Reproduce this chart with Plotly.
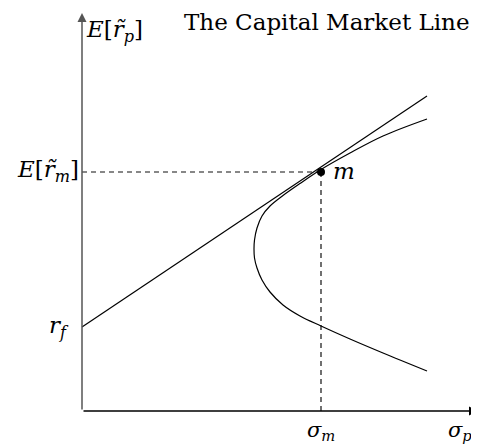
import plotly.graph_objects as go

# ---- data (arbitrary units) ----
frontier_sigma = [3.45, 3.01, 2.68, 2.39, 2.18, 2.01, 1.88, 1.80, 1.75, 1.725, 1.72,
                  1.725, 1.75, 1.80, 1.88, 2.01, 2.18, 2.39, 2.68, 3.01, 3.45]
frontier_mu = [2.92, 2.75, 2.58, 2.415, 2.275, 2.155, 2.05, 1.95, 1.83, 1.71, 1.62,
               1.53, 1.43, 1.31, 1.19, 1.06, 0.95, 0.85, 0.72, 0.58, 0.40]

cml_sigma = [0.0, 3.45]
cml_mu = [0.84, 3.15]

sigma_m = 2.39
mu_m = 2.39
r_f = 0.84

x_axis_max = 3.96
y_axis_max = 3.98

y_tick_labels = ["<i>E</i>[<i>r\u0303</i><sub><i>m</i></sub>]", "<i>r</i><sub><i>f</i></sub>"]
x_tick_labels = ["<i>σ</i><sub><i>m</i></sub>", "<i>σ</i><sub><i>p</i></sub>"]
y_axis_title = "<i>E</i>[<i>r\u0303</i><sub><i>p</i></sub>]"
point_label = "<i>m</i>"
title_text = "The Capital Market Line"

# page body has an 8px margin; the figure is sized to fill the rest of the 479x448 window
W, H = 471, 440
FONT = "DejaVu Serif"

fig = go.Figure()

dash_style = dict(color="#111", width=1.2, dash="5px,4px")
fig.add_trace(go.Scatter(x=[0, sigma_m], y=[mu_m, mu_m], mode="lines",
                         line=dash_style, hoverinfo="skip", showlegend=False))
fig.add_trace(go.Scatter(x=[sigma_m, sigma_m], y=[0, mu_m], mode="lines",
                         line=dash_style, hoverinfo="skip", showlegend=False))

# efficient frontier
fig.add_trace(go.Scatter(x=frontier_sigma, y=frontier_mu, mode="lines",
                         line=dict(color="black", width=1.2, shape="spline", smoothing=1.0),
                         hoverinfo="skip", showlegend=False))
# capital market line
fig.add_trace(go.Scatter(x=cml_sigma, y=cml_mu, mode="lines",
                         line=dict(color="black", width=1.2),
                         hoverinfo="skip", showlegend=False))
# market portfolio
fig.add_trace(go.Scatter(x=[sigma_m], y=[mu_m], mode="markers",
                         marker=dict(color="black", size=8),
                         hoverinfo="skip", showlegend=False))

annotations = []
annotations.append(dict(x=x_axis_max, y=0, ax=0, ay=0, xref="x", yref="y",
                        axref="x", ayref="y", showarrow=True, arrowhead=2,
                        arrowsize=1.2, arrowwidth=1.5, arrowcolor="black", text=""))
annotations.append(dict(x=0, y=y_axis_max, ax=0, ay=0, xref="x", yref="y",
                        axref="x", ayref="y", showarrow=True, arrowhead=2,
                        arrowsize=1.2, arrowwidth=1.5, arrowcolor="#555", text=""))

lab_font = dict(family=FONT, size=23, color="black")
bottom_font = dict(family=FONT, size=21, color="black")
annotations.append(dict(x=0, y=mu_m, xref="x", yref="y", text=y_tick_labels[0],
                        showarrow=False, xanchor="right", yanchor="middle",
                        xshift=-1, yshift=1, font=lab_font))
annotations.append(dict(x=0, y=r_f, xref="x", yref="y", text=y_tick_labels[1],
                        showarrow=False, xanchor="right", yanchor="middle",
                        xshift=-11, yshift=0, font=lab_font))
annotations.append(dict(x=sigma_m, y=0, xref="x", yref="y", text=x_tick_labels[0],
                        showarrow=False, xanchor="center", yanchor="bottom",
                        yshift=-35, font=bottom_font))
annotations.append(dict(x=3.64, y=0, xref="x", yref="y", text=x_tick_labels[1],
                        showarrow=False, xanchor="left", yanchor="bottom",
                        yshift=-35, font=bottom_font))
annotations.append(dict(x=0, y=3.80, xref="x", yref="y", text=y_axis_title,
                        showarrow=False, xanchor="left", yanchor="middle",
                        xshift=2, font=lab_font))
annotations.append(dict(x=sigma_m, y=mu_m, xref="x", yref="y", text=point_label,
                        showarrow=False, xanchor="left", yanchor="middle",
                        xshift=10, yshift=1, font=lab_font))
annotations.append(dict(x=1, y=3.89, xref="paper", yref="y", text=title_text,
                        showarrow=False, xanchor="right", yanchor="middle",
                        xshift=-7, font=dict(family=FONT, size=23, color="black")))

fig.update_layout(
    width=W, height=H,
    margin=dict(l=0, r=0, t=0, b=0),
    paper_bgcolor="white", plot_bgcolor="white",
    xaxis=dict(range=[-0.74, -0.74 + W / 100], visible=False, fixedrange=True),
    yaxis=dict(range=[4.03 - H / 100, 4.03], visible=False, fixedrange=True),
    annotations=annotations,
    showlegend=False,
)

fig.write_html("out.html")
